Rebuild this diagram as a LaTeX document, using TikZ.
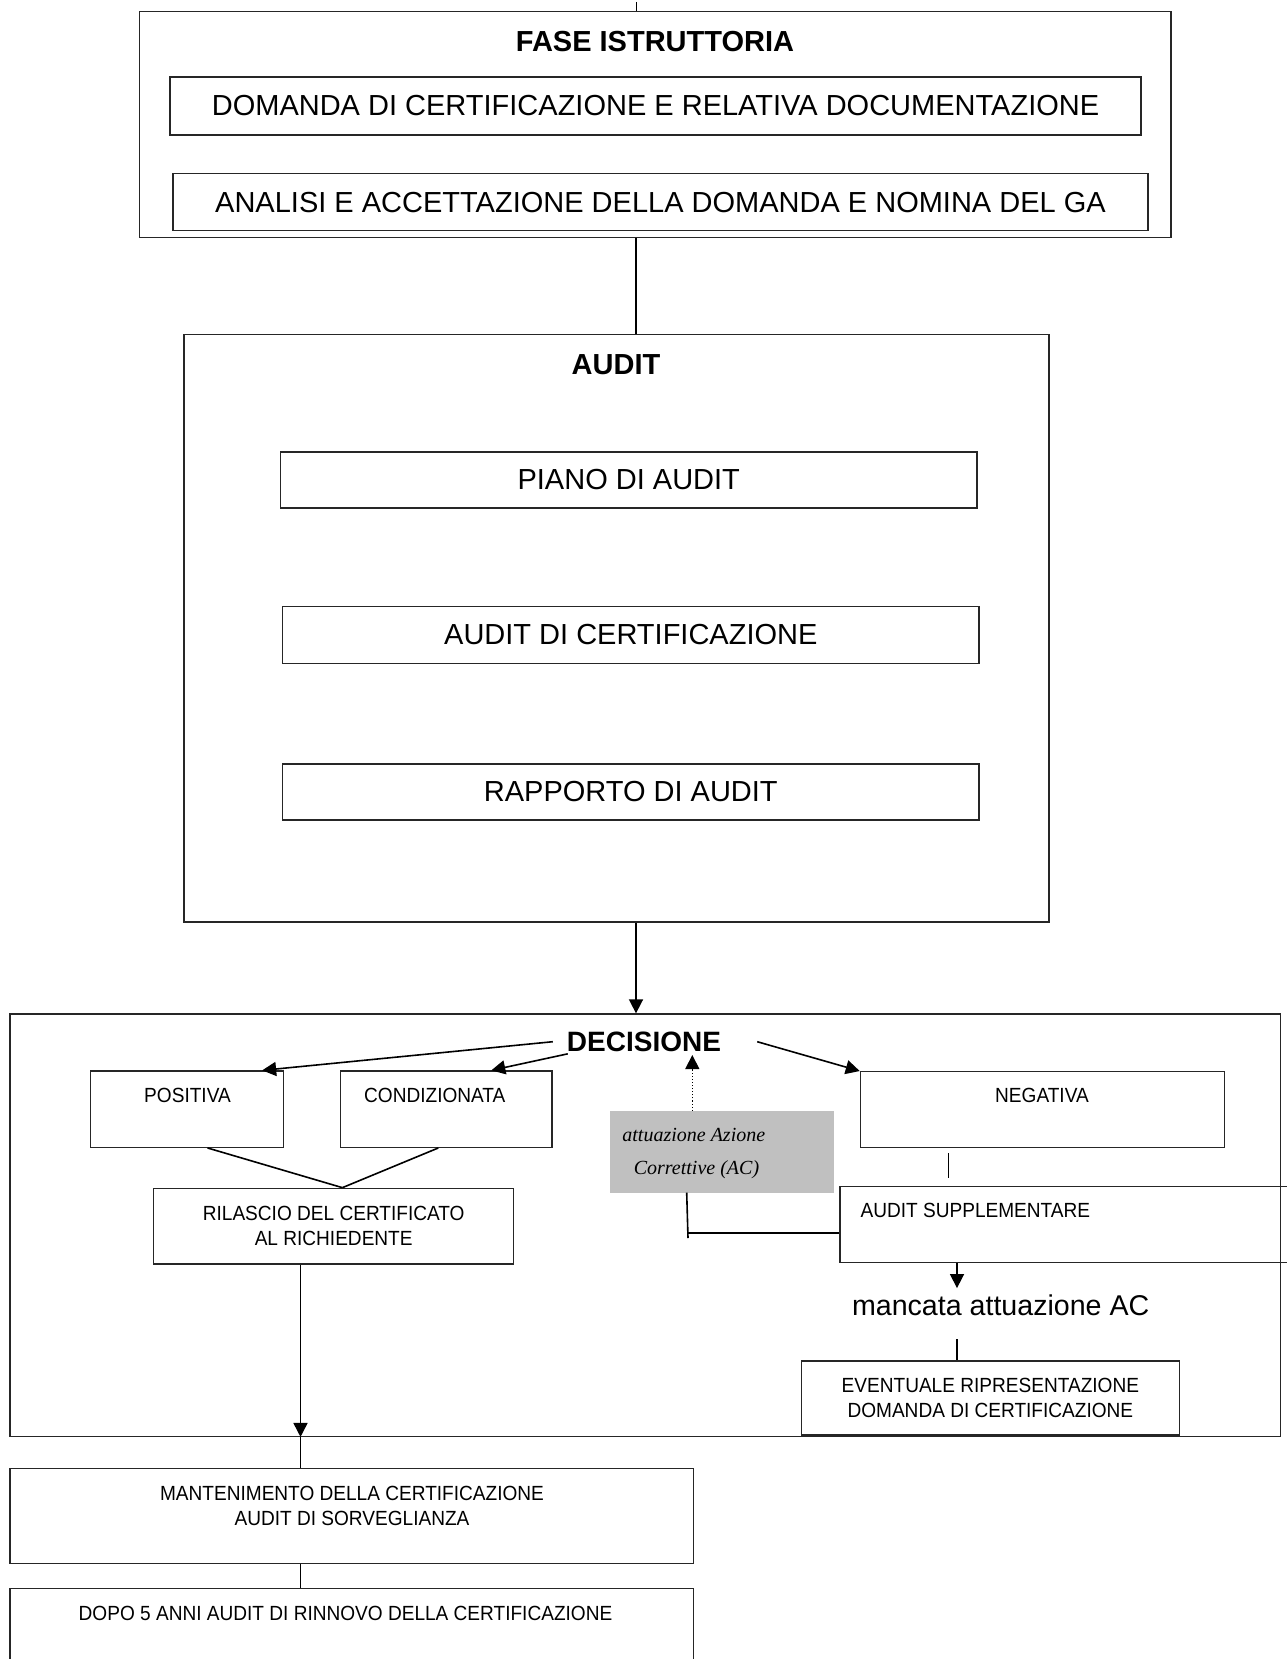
\documentclass[tikz,border=0pt]{standalone}
\usepackage{fontspec}
\setmainfont{Liberation Sans}
\newfontfamily\serifit{Liberation Serif}
\newfontfamily\narsans[FakeStretch=0.93]{Liberation Sans}
\usetikzlibrary{arrows.meta,calc}
\begin{document}
\begin{tikzpicture}[x=1pt,y=-1pt,
  box/.style={draw=black!85, line width=1.3pt, rectangle, inner sep=0pt, anchor=center},
  big/.style={font=\fontsize{29}{33}\selectfont},
  bigb/.style={font=\fontsize{29}{33}\selectfont\bfseries},
  small/.style={font=\narsans\fontsize{20.5}{25}\selectfont, align=center, inner sep=0pt},
  conn/.style={line width=1.6pt},
  arr/.style={conn, -{Triangle[length=14pt,width=14pt]}}
]
\useasboundingbox (0,0) rectangle (1287,1659);
\clip (0,0) rectangle (1287,1659);
\fill[white] (0,0) rectangle (1287,1659);

% ---- FASE ISTRUTTORIA
\node[box, minimum width=1031.5pt, minimum height=226pt] (fase) at (655.25,124.7) {};
\node[bigb, inner sep=0pt] (fasetxt) at (655,41.5) {FASE ISTRUTTORIA};
\node[box, big, minimum width=971pt, minimum height=58pt] (dom) at (655.5,106) {DOMANDA DI CERTIFICAZIONE E RELATIVA DOCUMENTAZIONE};
\node[box, big, minimum width=975pt, minimum height=57pt] (ana) at (660.5,202.2) {ANALISI E ACCETTAZIONE DELLA DOMANDA E NOMINA DEL GA};

% ---- AUDIT
\node[box, minimum width=865pt, minimum height=587.5pt] (audit) at (616.5,628.25) {};
\node[bigb, inner sep=0pt] (audittxt) at (616,365) {AUDIT};
\node[box, big, minimum width=696.5pt, minimum height=56pt] (piano) at (628.75,480) {PIANO DI AUDIT};
\node[box, big, minimum width=696.4pt, minimum height=57pt] (cert) at (630.8,635) {AUDIT DI CERTIFICAZIONE};
\node[box, big, minimum width=696.4pt, minimum height=56pt] (rapp) at (630.8,792) {RAPPORTO DI AUDIT};

% ---- DECISIONE
\node[box, minimum width=1270.7pt, minimum height=422.3pt] (dec) at (645.35,1225.15) {};
\node[font=\fontsize{28}{32}\selectfont\bfseries, inner sep=0pt] (dectxt) at (644,1041.7) {DECISIONE};

\node[box, minimum width=192.9pt, minimum height=76.3pt] (pos) at (187.05,1109.15) {};
\node[small] (postxt) at (187.5,1095) {POSITIVA};
\node[box, minimum width=211.4pt, minimum height=76.3pt] (cond) at (446.3,1109.15) {};
\node[small] (condtxt) at (434.8,1095) {CONDIZIONATA};
\node[box, minimum width=364pt, minimum height=75.6pt] (neg) at (1042.4,1109.5) {};
\node[small] (negtxt) at (1042,1095) {NEGATIVA};

\node[box, small, minimum width=360.2pt, minimum height=75.7pt] (ril) at (333.7,1226.15) {RILASCIO DEL CERTIFICATO\\AL RICHIEDENTE};

\node[fill={rgb,255:red,192;green,192;blue,192}, inner sep=0pt, minimum width=224.3pt, minimum height=81.7pt] (grey) at (722.15,1151.85) {};
\node[font=\fontsize{20}{24}\serifit\itshape\selectfont, inner sep=0pt, anchor=base] (gt1) at (693.8,1141.7) {attuazione Azione};
\node[font=\fontsize{20}{24}\serifit\itshape\selectfont, inner sep=0pt, anchor=base] (gt2) at (696.5,1174) {Correttive (AC)};

\node[box, minimum width=460.1pt, minimum height=76pt] (supp) at (1069.95,1224.7) {};
\node[small, anchor=west] (supptxt) at (860.4,1210) {AUDIT SUPPLEMENTARE};

\node[font=\fontsize{28.6}{33}\selectfont, inner sep=0pt, anchor=base] (manc) at (1000.7,1315) {mancata attuazione AC};

\node[box, small, minimum width=377.7pt, minimum height=74pt] (ev) at (990.35,1398) {EVENTUALE RIPRESENTAZIONE\\DOMANDA DI CERTIFICAZIONE};

% ---- bottom
\node[box, minimum width=683.3pt, minimum height=95pt] (mant) at (351.65,1515.8) {};
\node[small] (manttxt) at (352,1505.5) {MANTENIMENTO DELLA CERTIFICAZIONE\\AUDIT DI SORVEGLIANZA};
\node[box, minimum width=683.3pt, minimum height=111.7pt] (dopo) at (351.65,1644.15) {};
\node[small] (dopotxt) at (345.5,1613) {DOPO 5 ANNI AUDIT DI RINNOVO DELLA CERTIFICAZIONE};

% ---- helper coordinates
\coordinate (xa) at (636,0);
\coordinate (xr) at (300.5,0);
\coordinate (xg) at (692.3,0);
\coordinate (xs) at (957,0);
\coordinate (toptick) at (636,2);
\coordinate (dtip) at (692.3,1055);
\coordinate (n1) at (948.3,1153.3);
\coordinate (n2) at (948.3,1178.3);
\coordinate (g1) at (686.7,1192.7);
\coordinate (g2) at (688,1238);
\coordinate (g3) at (688,1233);
\coordinate (m1) at (957,1339.3);

% ---- connectors
\draw[line width=1pt] (toptick) -- (fase.north -| toptick);
\draw[conn, line width=1.2pt] (fase.south -| xa) -- (audit.north -| xa);
\draw[arr] (audit.south -| xa) -- (dec.north -| xa);

\draw[arr] ($(dectxt.west)+(-14,0)$) -- ($(pos.north east)+(-22,0)$);
\draw[arr] ($(dectxt.south west)+(1,2)$) -- ($(cond.north)+(45,0)$);
\draw[arr] ($(dectxt.east)+(36,0)$) -- (neg.north west);
\draw[line width=1.1pt, dotted, -{Triangle[length=14pt,width=14pt]}] (grey.north -| xg) -- (dtip);

\draw[conn] ($(pos.south)+(20.5,0)$) -- ($(ril.north)+(8.7,0)$);
\draw[conn] ($(cond.south)+(-8,0)$) -- ($(ril.north)+(8.7,0)$);

\draw[arr] (ril.south -| xr) -- (dec.south -| xr);
\draw[conn] (dec.south -| xr) -- (mant.north -| xr);
\draw[conn] (mant.south -| xr) -- (dopo.north -| xr);

\draw[conn] (n1) -- (n2);
\draw[conn] (g1) -- (g2);
\draw[conn] (g3) -- (supp.west |- g3);
\draw[arr] (supp.south -| xs) -- ($(manc.north -| xs)+(0,-6)$);
\draw[conn] (m1) -- (ev.north -| xs);
\end{tikzpicture}
\end{document}
